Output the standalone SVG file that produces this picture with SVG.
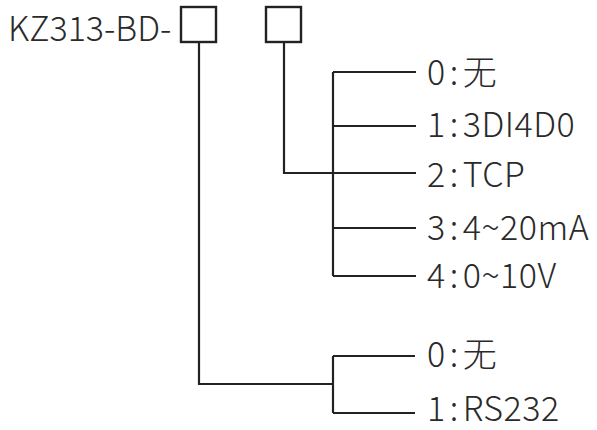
<svg xmlns="http://www.w3.org/2000/svg" width="597" height="430" viewBox="0 0 597 430">
<style>
.ln{fill:none;stroke:#222;stroke-width:2.2}
.bx{fill:#fff;stroke:#222;stroke-width:2.4}
.t{font-family:"Noto Sans CJK SC","Noto Sans",sans-serif;font-size:34px;font-weight:300;fill:#2a2a2a}
.o{letter-spacing:0.5px}
</style>
<rect width="597" height="430" fill="#fff"/>
<g id="connectors">
<path class="ln" d="M199,42 V384 H333"/>
<path class="ln" d="M333,356 V413 M333,356 H415 M333,413 H415"/>
<path class="ln" d="M284,42 V173 H333"/>
<path class="ln" d="M333,72 V276 M333,72 H416 M333,126 H416 M333,173 H416 M333,228 H416 M333,276 H416"/>
</g>
<g id="title"><text class="t" x="8" y="41">KZ313-BD-</text></g>
<g id="box1"><rect class="bx" x="181" y="7" width="35" height="35"/></g>
<g id="box2"><rect class="bx" x="266" y="7" width="35" height="35"/></g>
<g id="opt2-0"><text class="t o" x="427" y="85">0<tspan dx="4">:</tspan><tspan dx="4">无</tspan></text></g>
<g id="opt2-1"><text class="t o" x="427" y="137">1<tspan dx="4">:</tspan><tspan dx="4">3DI4D0</tspan></text></g>
<g id="opt2-2"><text class="t o" x="427" y="187">2<tspan dx="4">:</tspan><tspan dx="4">TCP</tspan></text></g>
<g id="opt2-3"><text class="t o" x="427" y="240">3<tspan dx="4">:</tspan><tspan dx="4">4~20mA</tspan></text></g>
<g id="opt2-4"><text class="t o" x="427" y="288">4<tspan dx="4">:</tspan><tspan dx="4">0~10V</tspan></text></g>
<g id="opt1-0"><text class="t o" x="427" y="367">0<tspan dx="4">:</tspan><tspan dx="4">无</tspan></text></g>
<g id="opt1-1"><text class="t o" x="427" y="421">1<tspan dx="4">:</tspan><tspan dx="4">RS232</tspan></text></g>
</svg>
